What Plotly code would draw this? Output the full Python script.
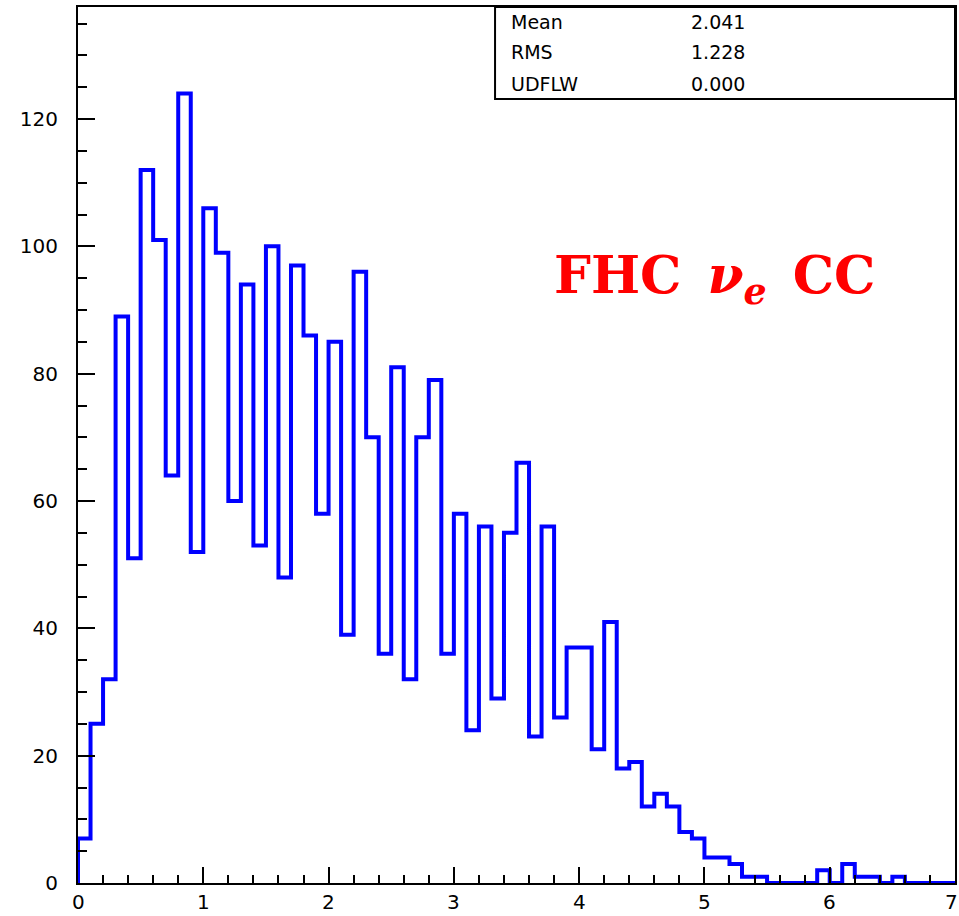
import numpy as np
import plotly.graph_objects as go

# Histogram: 70 bins of width 0.1 from 0 to 7
bin_low = 0.0
bin_width = 0.1
counts = [7, 25, 32, 89, 51, 112, 101, 64, 124, 52,
          106, 99, 60, 94, 53, 100, 48, 97, 86, 58,
          85, 39, 96, 70, 36, 81, 32, 70, 79, 36,
          58, 24, 56, 29, 55, 66, 23, 56, 26, 37,
          37, 21, 41, 18, 19, 12, 14, 12, 8, 7,
          4, 4, 3, 1, 1, 0, 0, 0, 0, 2,
          0, 3, 1, 1, 0, 1, 0, 0, 0, 0]

x_tick_vals = [0, 1, 2, 3, 4, 5, 6, 7]
x_tick_text = ["0", "1", "2", "3", "4", "5", "6", "7"]

stat_names = ["Mean", "RMS", "UDFLW"]
stat_values = ["2.041", "1.228", "0.000"]

edges = bin_low + bin_width * np.arange(len(counts) + 1)
x_step = list(edges)
y_step = list(counts) + [counts[-1]]

fig = go.Figure()
fig.add_trace(go.Scatter(
    x=[edges[0]] + x_step + [edges[-1]],
    y=[0] + y_step + [0],
    mode="lines",
    line=dict(color="#0000ff", width=4, shape="hv"),
    hoverinfo="skip",
    showlegend=False,
))

tickfont = dict(family="DejaVu Sans", size=20, color="black")

W, H = 959, 916
ml, mr, mt, mb = 78, 2, 7, 33
pw, ph = W - ml - mr, H - mt - mb

def px2paper_x(px):
    return (px - ml) / pw

def px2paper_y(py):
    return (H - mb - py) / ph

fig.update_xaxes(
    range=[0, 7], tickmode="linear", tick0=0, dtick=1,
    ticks="inside", ticklen=16, tickwidth=2, tickcolor="black",
    minor=dict(dtick=0.2, ticks="inside", ticklen=8, tickwidth=2, tickcolor="black"),
    showline=True, linecolor="black", linewidth=2, mirror=True,
    showgrid=False, zeroline=False, showticklabels=False,
)
fig.update_yaxes(
    range=[0, 137.6], tickmode="linear", tick0=0, dtick=20,
    ticks="inside", ticklen=17, tickwidth=2, tickcolor="black",
    minor=dict(dtick=5, ticks="inside", ticklen=9, tickwidth=2, tickcolor="black"),
    showline=True, linecolor="black", linewidth=2, mirror=True,
    showgrid=False, zeroline=False, tickfont=tickfont,
    ticklabelstandoff=14,
)

# x tick labels as annotations so that the last one ("7") is drawn at the edge
for v, t in zip(x_tick_vals, x_tick_text):
    fig.add_annotation(xref="x", yref="paper", x=v, y=px2paper_y(902),
                       text=t, showarrow=False, xanchor="center", yanchor="middle",
                       xshift=(-4 if v == x_tick_vals[-1] else 0),
                       font=tickfont)

# Stats box
fig.add_shape(type="rect", xref="paper", yref="paper",
              x0=px2paper_x(496), x1=1.0, y0=px2paper_y(99), y1=1.0,
              line=dict(color="black", width=2), fillcolor="white", layer="above")

row_y = [22, 52, 84]
for name, val, ry in zip(stat_names, stat_values, row_y):
    fig.add_annotation(xref="paper", yref="paper", x=px2paper_x(510), y=px2paper_y(ry),
                       text=name, showarrow=False, xanchor="left", yanchor="middle",
                       font=dict(family="DejaVu Sans", size=19, color="black"))
    fig.add_annotation(xref="paper", yref="paper", x=px2paper_x(690), y=px2paper_y(ry),
                       text=val, showarrow=False, xanchor="left", yanchor="middle",
                       font=dict(family="DejaVu Sans", size=19, color="black"))

fig.add_annotation(xref="paper", yref="paper", x=px2paper_x(553), y=px2paper_y(278),
                   text="<b>FHC\u2002<i>ν<sub>e</sub></i>\u2002CC</b>", showarrow=False,
                   xanchor="left", yanchor="middle",
                   font=dict(family="DejaVu Serif", size=52, color="#ff0000"))

fig.update_layout(
    width=W, height=H,
    margin=dict(l=ml, r=mr, t=mt, b=mb, pad=0),
    paper_bgcolor="white", plot_bgcolor="white",
    showlegend=False,
)

fig.write_html("out.html", config={"displayModeBar": False})
